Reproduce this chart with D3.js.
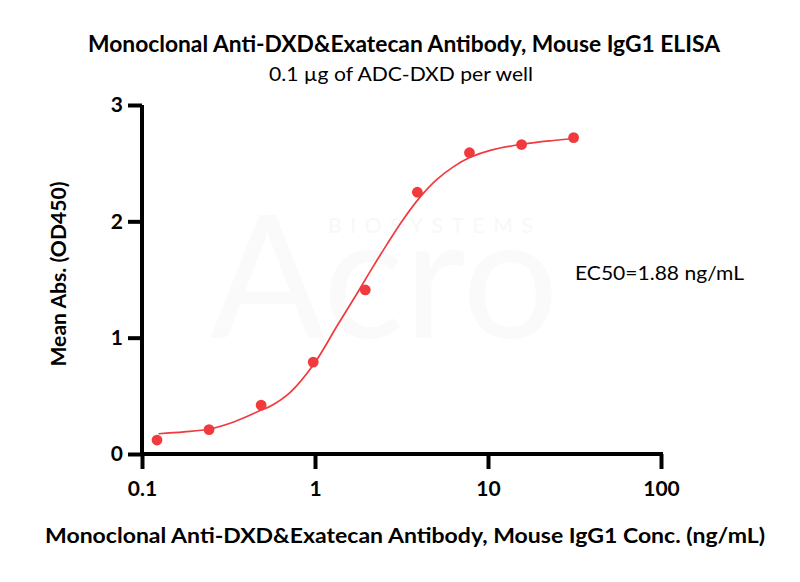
<!DOCTYPE html>
<html>
<head>
<meta charset="utf-8">
<script src="https://cdn.jsdelivr.net/npm/d3@7"></script>
<style>
  body { margin: 0; background: #fff; }
  svg text { font-family: Lato, "Open Sans", sans-serif; }
  .axis path, .axis line { stroke: #000; stroke-width: 4px; }
</style>
</head>
<body>
<div id="vis"></div>
<script>
const FRAME_WIDTH = 800;
const FRAME_HEIGHT = 582;

// measured points (ng/mL, OD450)
const conc = [0.1221, 0.2441, 0.4883, 0.9766, 1.953, 3.906, 7.813, 15.63, 31.25];
const od = [0.12, 0.21, 0.42, 0.79, 1.41, 2.25, 2.59, 2.66, 2.72];

// fitted curve
const curveConc = [0.1245, 0.175, 0.2455, 0.345, 0.493, 0.551, 0.719, 0.993, 1.34, 1.75, 2.085, 2.60, 3.25, 4.06, 5.07, 6.33, 7.89, 10.3, 16.0, 23.9, 32.4];
const curveOD = [0.174, 0.19, 0.215, 0.28, 0.38, 0.41, 0.53, 0.78, 1.10, 1.38, 1.57, 1.80, 2.02, 2.21, 2.36, 2.47, 2.55, 2.61, 2.665, 2.695, 2.712];

const xTicks = [0.1, 1, 10, 100];
const xTickLabels = ["0.1", "1", "10", "100"];
const yTicks = [0, 1, 2, 3];

const RED = "#f03a3e";

const svg = d3.select("#vis")
  .append("svg")
    .attr("width", FRAME_WIDTH)
    .attr("height", FRAME_HEIGHT);

const x = d3.scaleLog()
  .domain([0.1, 100])
  .range([142, 661]);

const y = d3.scaleLinear()
  .domain([0, 3])
  .range([454, 105]);

// very faint watermark
svg.append("text")
  .attr("x", 210).attr("y", 338)
  .attr("font-size", 170)
  .attr("fill", "#fafafa")
  .text("Acro");
svg.append("text")
  .attr("x", 328).attr("y", 233)
  .attr("font-size", 21)
  .attr("textLength", 205)
  .attr("fill", "#f8f8f8")
  .text("BIOSYSTEMS");

// axes
const xAxis = svg.append("g")
  .attr("class", "axis")
  .attr("transform", "translate(0," + y(0) + ")")
  .call(d3.axisBottom(x)
    .tickValues(xTicks)
    .tickFormat((d, i) => xTickLabels[i])
    .tickSize(15)
    .tickSizeOuter(0)
    .tickPadding(12));

const yAxis = svg.append("g")
  .attr("class", "axis")
  .attr("transform", "translate(" + x(0.1) + ",0)")
  .call(d3.axisLeft(y)
    .tickValues(yTicks)
    .tickFormat(d3.format("d"))
    .tickSize(14)
    .tickSizeOuter(0)
    .tickPadding(5));

[xAxis, yAxis].forEach(g => {
  g.selectAll(".tick text")
    .attr("fill", "#000")
    .attr("font-size", 21)
    .attr("font-weight", "bold")
    .style("font-family", "Lato, sans-serif");
});
yAxis.select(".domain").attr("d", "M0," + (y(0) + 2) + "V" + y(3));
xAxis.select(".domain").attr("d", "M" + (x(0.1) - 2) + ",0H" + (x(100) + 2));

// fitted curve
const line = d3.line()
  .x(d => x(d[0]))
  .y(d => y(d[1]))
  .curve(d3.curveCatmullRom.alpha(0.5));

svg.append("path")
  .datum(curveConc.map((c, i) => [c, curveOD[i]]))
  .attr("d", line)
  .attr("fill", "none")
  .attr("stroke", RED)
  .attr("stroke-width", 1.7);

// points
svg.selectAll("circle.pt")
  .data(conc)
  .enter()
  .append("circle")
    .attr("class", "pt")
    .attr("cx", d => x(d))
    .attr("cy", (d, i) => y(od[i]))
    .attr("r", 5.4)
    .attr("fill", RED);

// texts
svg.append("text")
  .attr("x", 404).attr("y", 52)
  .attr("text-anchor", "middle")
  .attr("font-size", 22)
  .attr("font-weight", "bold")
  .attr("textLength", 632)
  .attr("lengthAdjust", "spacingAndGlyphs")
  .text("Monoclonal Anti-DXD&Exatecan Antibody, Mouse IgG1 ELISA");

svg.append("text")
  .attr("x", 401).attr("y", 81)
  .attr("text-anchor", "middle")
  .attr("font-size", 19)
  .attr("textLength", 264)
  .attr("lengthAdjust", "spacingAndGlyphs")
  .text("0.1 µg of ADC-DXD per well");

svg.append("text")
  .attr("x", 405).attr("y", 543)
  .attr("text-anchor", "middle")
  .attr("font-size", 20)
  .attr("font-weight", "bold")
  .attr("textLength", 720)
  .attr("lengthAdjust", "spacingAndGlyphs")
  .text("Monoclonal Anti-DXD&Exatecan Antibody, Mouse IgG1 Conc. (ng/mL)");

svg.append("text")
  .attr("transform", "translate(66,274) rotate(-90)")
  .attr("text-anchor", "middle")
  .attr("font-size", 20)
  .attr("font-weight", "bold")
  .attr("textLength", 185)
  .attr("lengthAdjust", "spacingAndGlyphs")
  .text("Mean Abs. (OD450)");

svg.append("text")
  .attr("x", 575).attr("y", 280)
  .attr("font-size", 19)
  .attr("textLength", 169)
  .attr("lengthAdjust", "spacingAndGlyphs")
  .text("EC50=1.88 ng/mL");
</script>
</body>
</html>
